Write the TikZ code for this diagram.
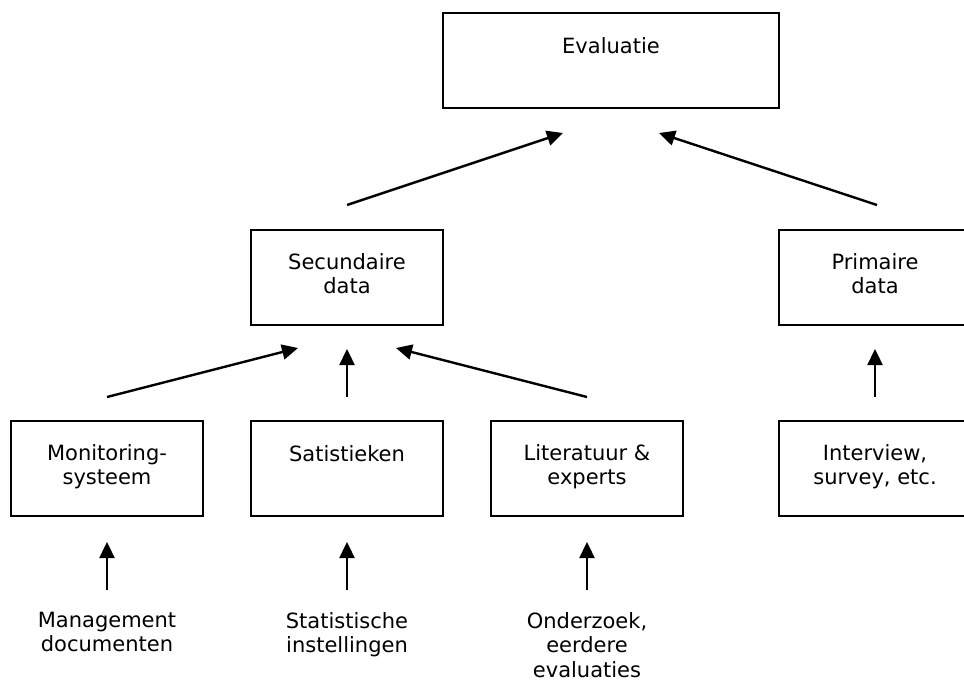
\documentclass[tikz,border=0pt]{standalone}
\usepackage{fontspec}
\setmainfont{DejaVu Sans}
\usetikzlibrary{arrows.meta}

\begin{document}
\begin{tikzpicture}[x=1pt,y=-1pt,
  box/.style={draw, line width=2pt, rectangle, minimum width=192pt,
    minimum height=95pt, inner sep=0pt, outer sep=0pt, anchor=north west},
  boxtext/.style={anchor=north, align=center, inner sep=0pt,
    font=\fontsize{21}{24.5}\selectfont, execute at begin node=\strut},
  flow/.style={line width=2.4pt, -{Triangle[length=16pt,width=15pt]}}]

\useasboundingbox (0,0) rectangle (964,681);
\clip (0,0) rectangle (964,681);

% boxes
\node[box, minimum width=336pt] (eval) at (443,13) {};
\node[box] (sec)  at (251,230) {};
\node[box] (prim) at (779,230) {};
\node[box] (mon)  at (11,421) {};
\node[box] (sat)  at (251,421) {};
\node[box] (lit)  at (491,421) {};
\node[box] (int)  at (779,421) {};

% box captions, first baseline 40pt below the top edge
\node[boxtext] (evalT) at ([yshift=-22.85pt]eval.north) {Evaluatie};
\node[boxtext] (secT)  at ([yshift=-22.85pt]sec.north)  {Secundaire\\data};
\node[boxtext] (primT) at (875,252.85) {Primaire\\data};
\node[boxtext] (monT)  at ([yshift=-22.85pt]mon.north)  {Monitoring-\\systeem};
\node[boxtext] (satT)  at ([yshift=-22.85pt]sat.north)  {Satistieken};
\node[boxtext] (litT)  at ([yshift=-22.85pt]lit.north)  {Literatuur \&\\experts};
\node[boxtext] (intT)  at (875,443.85) {Interview,\\survey, etc.};

% sources underneath
\node[boxtext] (man) at (107,611.85) {Management\\documenten};
\node[boxtext] (sta) at (347,611.85) {Statistische\\instellingen};
\node[boxtext] (ond) at (587,611.85) {Onderzoek,\\eerdere\\evaluaties};

% arrow end points
\coordinate (e1) at (347,205);  \coordinate (e1t) at (563,133);
\coordinate (e2) at (877,205);  \coordinate (e2t) at (659,133);
\coordinate (s1) at (107,397);  \coordinate (s1t) at (298,348);
\coordinate (s2) at (347,397);  \coordinate (s2t) at (347,349);
\coordinate (s3) at (587,397);  \coordinate (s3t) at (396,348);
\coordinate (p1) at (875,397);  \coordinate (p1t) at (875,349);
\coordinate (b1) at (107,590);  \coordinate (b1t) at (107,542);
\coordinate (b2) at (347,590);  \coordinate (b2t) at (347,542);
\coordinate (b3) at (587,590);  \coordinate (b3t) at (587,542);

% arrows
\draw[flow] (e1) -- (e1t);
\draw[flow] (e2) -- (e2t);
\draw[flow] (s1) -- (s1t);
\draw[flow] (s2) -- (s2t);
\draw[flow] (s3) -- (s3t);
\draw[flow] (p1) -- (p1t);
\draw[flow] (b1) -- (b1t);
\draw[flow] (b2) -- (b2t);
\draw[flow] (b3) -- (b3t);
\end{tikzpicture}
\end{document}
